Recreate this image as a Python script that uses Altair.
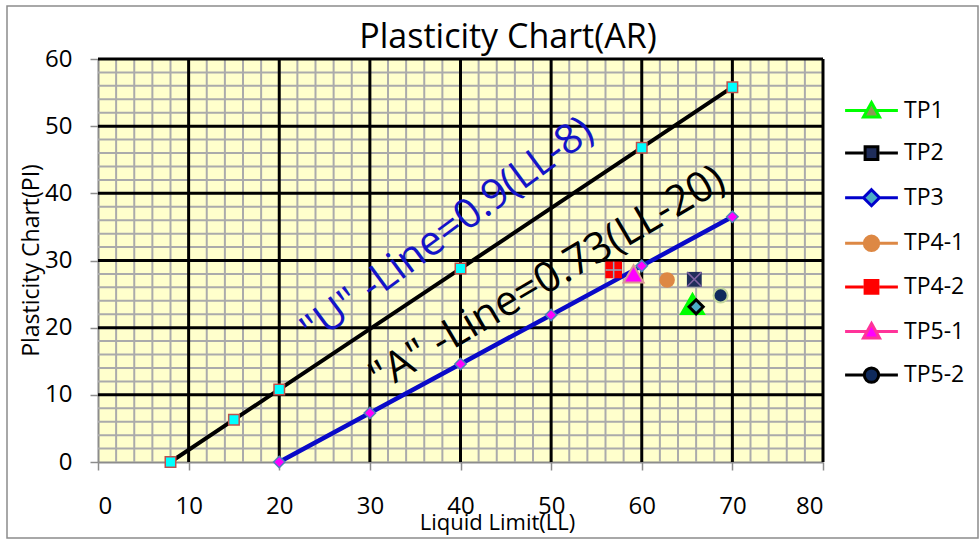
import altair as alt
import pandas as pd

FONT = "Open Sans"

# ---- data ----
u_ll = [8, 15, 20, 40, 60, 70]
u_pi = [0, 6.3, 10.8, 28.8, 46.8, 55.8]
a_ll = [20, 30, 40, 50, 60, 70]
a_pi = [0, 7.3, 14.6, 21.9, 29.2, 36.5]

series = ["TP1", "TP2", "TP3", "TP4-1", "TP4-2", "TP5-1", "TP5-2"]
tp_ll = [65.6, 65.8, 66.0, 62.8, 56.9, 59.1, 68.7]
tp_pi = [23.5, 27.2, 23.1, 27.1, 28.6, 28.0, 24.8]

x_ticks = [0, 10, 20, 30, 40, 50, 60, 70, 80]
y_ticks = [0, 10, 20, 30, 40, 50, 60]
x_major = [10, 20, 30, 40, 50, 60, 70, 80]
y_major = [10, 20, 30, 40, 50, 60]
x_minor = [v for v in range(2, 80, 2) if v % 10]
y_minor = [v for v in range(2, 60, 2) if v % 10]

labels_text = ['"U" -Line=0.9(LL-8)', '"A" -Line=0.73(LL-20)']
labels_ll = [38.6, 49.6]
labels_pi = [34.4, 27.3]

title_text = "Plasticity Chart(AR)"

# ---- styles ----
line_colors = ["#00FF00", "#000000", "#0000CC", "#DD8844", "#FF0000", "#FF3399", "#000000"]
marker_fill = ["#00FF00", "#1F2D5A", "#4BACC6", "#DD8844", "#FF0000", "#FF00FF", "#0F2A5C"]
marker_stroke = ["#00FF00", "#1F2D5A", "#000000", "#DD8844", "#FF0000", "#D99694", "#C3D69B"]
marker_shape = ["triangle-up", "square", "diamond", "circle", "square", "triangle-up", "circle"]
marker_size = [460, 220, 200, 240, 280, 400, 200]
marker_sw = [3, 0, 3, 0, 0, 2, 2]
legend_fill = ["#8C9A55", "#1F2D5A", "#4BACC6", "#DD8844", "#FF0000", "#FF00FF", "#0F2A5C"]

TRI = "M0,-1L1,0.8L-1,0.8Z"
SQ = "M-0.8,-0.8H0.8V0.8H-0.8Z"
DIA = "M0,-1L1,0L0,1L-1,0Z"
CIR = "M-0.9,0A0.9,0.9,0,1,1,0.9,0A0.9,0.9,0,1,1,-0.9,0Z"
LN_T = "M-3.3,0H-0.5M0.5,0H3.3"
LN_B = "M-3.3,0H-1M1,0H3.3"
legend_shapes = [LN_T + TRI, LN_B + SQ, LN_B + DIA, LN_B + CIR, LN_B + SQ, LN_T + TRI, LN_B + CIR]

u_df = pd.DataFrame({"LL": u_ll, "PI": u_pi})
a_df = pd.DataFrame({"LL": a_ll, "PI": a_pi})
tp_df = pd.DataFrame({"series": series, "LL": tp_ll, "PI": tp_pi})
lab_df = pd.DataFrame({"txt": labels_text, "LL": labels_ll, "PI": labels_pi})

xs = alt.Scale(domain=[0, 80], nice=False, zero=False)
ys = alt.Scale(domain=[0, 60], nice=False, zero=False)

x_axis = alt.Axis(values=x_ticks, grid=False, title="Liquid Limit(LL)",
                  labelFontSize=24, labelFont=FONT, labelColor="#000", labelPadding=43,
                  labelBaseline="alphabetic", tickSize=8, tickColor="#8C8C8C", tickWidth=1.5,
                  domainColor="#8C8C8C", domainWidth=2, titleFontSize=22, titleFont=FONT,
                  titleFontWeight="normal", titleColor="#000", titleX=399, titleY=67,
                  titleBaseline="alphabetic", titleAlign="center")
y_axis = alt.Axis(values=y_ticks, grid=False, title="Plasticity Chart(PI)",
                  labelFontSize=24, labelFont=FONT, labelColor="#000", labelPadding=18,
                  tickSize=8, tickColor="#8C8C8C", tickWidth=1.5,
                  domainColor="#8C8C8C", domainWidth=2, titleFontSize=23, titleFont=FONT,
                  titleFontWeight="normal", titleColor="#000", titleX=-60, titleY=201,
                  titleBaseline="alphabetic", titleAlign="center", titleAngle=270)

minor_x = alt.Chart(pd.DataFrame({"v": x_minor})).mark_rule(color="#ABABAB", strokeWidth=2).encode(
    x=alt.X("v:Q", scale=xs, axis=x_axis))
minor_y = alt.Chart(pd.DataFrame({"v": y_minor})).mark_rule(color="#ABABAB", strokeWidth=2).encode(
    y=alt.Y("v:Q", scale=ys, axis=y_axis))
major_x = alt.Chart(pd.DataFrame({"v": x_major})).mark_rule(color="#000", strokeWidth=3).encode(
    x=alt.X("v:Q", scale=xs))
major_y = alt.Chart(pd.DataFrame({"v": y_major})).mark_rule(color="#000", strokeWidth=3).encode(
    y=alt.Y("v:Q", scale=ys))

u_line = alt.Chart(u_df).mark_line(color="#000", strokeWidth=4).encode(
    x=alt.X("LL:Q", scale=xs), y=alt.Y("PI:Q", scale=ys))
u_pts = alt.Chart(u_df).mark_point(shape="square", filled=True, fill="#00FFFF", stroke="#C0504D",
                                   strokeWidth=1.5, size=110, opacity=1).encode(
    x=alt.X("LL:Q", scale=xs), y=alt.Y("PI:Q", scale=ys))
a_line = alt.Chart(a_df).mark_line(color="#0A0AC8", strokeWidth=4.5).encode(
    x=alt.X("LL:Q", scale=xs), y=alt.Y("PI:Q", scale=ys))
a_pts = alt.Chart(a_df).mark_point(shape="diamond", filled=True, fill="#FF00FF", stroke="#4F81BD",
                                   strokeWidth=1.5, size=130, opacity=1).encode(
    x=alt.X("LL:Q", scale=xs), y=alt.Y("PI:Q", scale=ys))

u_text = alt.Chart(lab_df.iloc[[0]]).mark_text(font=FONT, fontSize=41, angle=323.5, color="#1414C8",
                                               align="center", baseline="middle").encode(
    x=alt.X("LL:Q", scale=xs), y=alt.Y("PI:Q", scale=ys), text="txt:N")
a_text = alt.Chart(lab_df.iloc[[1]]).mark_text(font=FONT, fontSize=42, angle=329.5, color="#000",
                                               align="center", baseline="middle").encode(
    x=alt.X("LL:Q", scale=xs), y=alt.Y("PI:Q", scale=ys), text="txt:N")

tp_pts = alt.Chart(tp_df).mark_point(filled=True, opacity=1).encode(
    x=alt.X("LL:Q", scale=xs), y=alt.Y("PI:Q", scale=ys),
    shape=alt.Shape("series:N", scale=alt.Scale(domain=series, range=marker_shape), legend=None),
    fill=alt.Fill("series:N", scale=alt.Scale(domain=series, range=marker_fill), legend=None),
    stroke=alt.Stroke("series:N", scale=alt.Scale(domain=series, range=marker_stroke), legend=None),
    size=alt.Size("series:N", scale=alt.Scale(type="ordinal", domain=series, range=marker_size), legend=None),
    strokeWidth=alt.StrokeWidth("series:N", scale=alt.Scale(type="ordinal", domain=series, range=marker_sw),
                                legend=None),
)

deco_series = ["TP2", "TP4-2"]
deco = alt.Chart(tp_df).transform_filter(
    alt.FieldOneOfPredicate(field="series", oneOf=deco_series)
).mark_point(filled=False, opacity=1, strokeWidth=1.5).encode(
    x=alt.X("LL:Q", scale=xs), y=alt.Y("PI:Q", scale=ys),
    shape=alt.Shape("series:N", scale=alt.Scale(domain=deco_series,
                    range=["M-1,-1L1,1M-1,1L1,-1", "M0,-1V1M-1,0H1"]), legend=None),
    stroke=alt.Stroke("series:N", scale=alt.Scale(domain=deco_series,
                      range=["#8064A2", "#8EA9C1"]), legend=None),
    size=alt.Size("series:N", scale=alt.Scale(type="ordinal", domain=deco_series, range=[205, 260]),
                  legend=None),
)

leg = dict(orient="none", legendX=762, legendY=40, title=None, symbolSize=256,
           symbolStrokeWidth=3, symbolOpacity=1, labelFontSize=23, labelFont=FONT,
           labelColor="#000", labelOffset=21, rowPadding=17.6, padding=0)
legend_layer = alt.Chart(tp_df).transform_filter("false").mark_point(filled=True, opacity=1).encode(
    x=alt.X("LL:Q", scale=xs), y=alt.Y("PI:Q", scale=ys),
    shape=alt.Shape("series:N", scale=alt.Scale(domain=series, range=legend_shapes), legend=alt.Legend(**leg)),
    fill=alt.Fill("series:N", scale=alt.Scale(domain=series, range=legend_fill), legend=alt.Legend(**leg)),
    stroke=alt.Stroke("series:N", scale=alt.Scale(domain=series, range=line_colors), legend=alt.Legend(**leg)),
)

frame = alt.Chart(pd.DataFrame({"a": [0]})).mark_rect(fillOpacity=0, stroke="#8C8C8C", strokeWidth=1.5).encode(
    x=alt.value(-91), x2=alt.value(880), y=alt.value(-53), y2=alt.value(479))

title = alt.Chart(pd.DataFrame({"t": [title_text]})).mark_text(
    font=FONT, fontSize=34, color="#000", align="center", baseline="alphabetic").encode(
    x=alt.value(410), y=alt.value(-11), text="t:N")

chart = alt.layer(
    frame, minor_x, minor_y, major_x, major_y,
    u_line, u_pts, a_line, a_pts, u_text, a_text, tp_pts, deco, legend_layer, title
).resolve_scale(
    shape="independent", fill="independent", stroke="independent", size="independent",
    strokeWidth="independent"
).properties(
    width=725, height=403,
    padding={"left": 98, "top": 59, "right": 157, "bottom": 78},
    autosize=alt.AutoSizeParams(type="none"),
    background="#FFFFFF",
).configure_view(stroke=None, fill="#FFFFCC")

chart.save("out.html", embed_options={"renderer": "svg", "actions": False})
